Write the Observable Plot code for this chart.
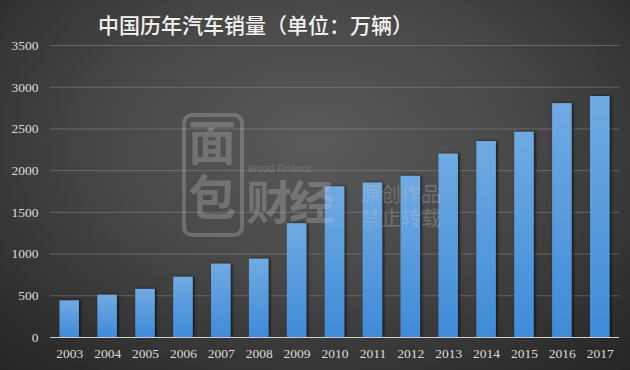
<!DOCTYPE html>
<html>
<head>
<meta charset="utf-8">
<script src="https://cdn.jsdelivr.net/npm/d3@7"></script>
<script src="https://cdn.jsdelivr.net/npm/@observablehq/plot@0.6"></script>
<style>
  html, body { margin: 0; padding: 0; background: #2a2a2a; }
  #wrap {
    position: relative; width: 630px; height: 370px; overflow: hidden;
    background: radial-gradient(ellipse 75% 85% at 50% 38%, #5a5a5a 0%, #474747 45%, #303030 80%, #242424 100%);
  }
  #title {
    position: absolute; left: 98px; top: 9px; width: 314px; text-align: center;
    font-family: "Noto Sans CJK SC", sans-serif; font-weight: 500; font-size: 21px;
    color: #f2f2f2; white-space: nowrap;
  }
  #chart { position: absolute; left: 0; top: 0; }
  #chart svg text { font-family: "Liberation Serif", serif !important; font-size: 13.5px; }
  .wm { position: absolute; color: rgba(205,205,205,0.28); font-family: "Noto Sans CJK SC", sans-serif; white-space: nowrap; pointer-events: none; line-height: 1; }
  #logo { position: absolute; left: 182px; top: 113px; width: 54px; height: 116px; border: 4px solid rgba(205,205,205,0.28); border-radius: 10px; }
</style>
</head>
<body>
<div id="wrap">
  <div id="chart"></div>
  <div id="title">中国历年汽车销量（单位：万辆）</div>
  <div id="logo"></div>
  <div class="wm" style="left:188px;top:118px;font-size:48px;font-weight:700;writing-mode:vertical-rl;letter-spacing:7px;">面包</div>
  <div class="wm" style="left:246px;top:162px;"><div style="font-size:9.5px;line-height:12px;padding-left:2px;">Broad Finance</div><div style="font-size:46px;line-height:50px;font-weight:700;letter-spacing:-3px;">财经</div></div>
  <div class="wm" style="left:361px;top:182px;font-size:20px;line-height:24px;">原创作品<br>禁止转载</div>
</div>
<script>
const years = ["2003","2004","2005","2006","2007","2008","2009","2010","2011","2012","2013","2014","2015","2016","2017"];
const sales = [439, 507, 576, 722, 879, 938, 1364, 1806, 1851, 1931, 2198, 2349, 2460, 2803, 2888];
const yTicks = [0, 500, 1000, 1500, 2000, 2500, 3000, 3500];

const data = years.map((y, i) => ({year: y, sales: sales[i]}));

const chart = Plot.plot({
  width: 630,
  height: 370,
  marginTop: 45,
  marginBottom: 33,
  marginLeft: 50,
  marginRight: 11,
  style: {background: "transparent", color: "#dcdcdc", fontFamily: "'Liberation Serif', serif", fontSize: "13.5px"},
  x: {domain: years, paddingInner: 0.485, paddingOuter: 0.25, round: false, label: null, tickSize: 0, tickPadding: 11},
  y: {domain: [0, 3500], ticks: yTicks, tickFormat: d => String(d), label: null, tickSize: 0, tickPadding: 12},
  marks: [
    Plot.ruleY(yTicks.filter(d => d > 0), {stroke: "#9a9a9a", strokeOpacity: 0.45}),
    Plot.barY(data, {x: "year", y: "sales", fill: "#4a90d8"}),
    Plot.ruleY([0], {stroke: "#cfcfcf", strokeWidth: 1.2})
  ]
});

const svg = d3.select(chart);
const defs = svg.insert("defs", ":first-child");
const g = defs.append("linearGradient").attr("id", "barGrad").attr("x1", 0).attr("y1", 0).attr("x2", 0).attr("y2", 1);
g.append("stop").attr("offset", "0%").attr("stop-color", "#70aae2");
g.append("stop").attr("offset", "100%").attr("stop-color", "#3f8bd8");
const f = defs.append("filter").attr("id", "barShadow").attr("x", "-30%").attr("y", "-10%").attr("width", "160%").attr("height", "120%");
f.append("feDropShadow").attr("dx", 1.5).attr("dy", 0).attr("stdDeviation", 1.8).attr("flood-color", "#000").attr("flood-opacity", 0.7);
svg.selectAll("g[aria-label='bar']").attr("fill", "url(#barGrad)").attr("filter", "url(#barShadow)")
  .selectAll("rect").attr("fill", null);
svg.selectAll("text").attr("font-family", "Liberation Serif").style("font-family", "'Liberation Serif', serif");
svg.selectAll("g[aria-label='y-axis tick label'], g[aria-label='x-axis tick label']").attr("fill", "#dcdcdc");

document.getElementById("chart").appendChild(chart);
</script>
</body>
</html>
